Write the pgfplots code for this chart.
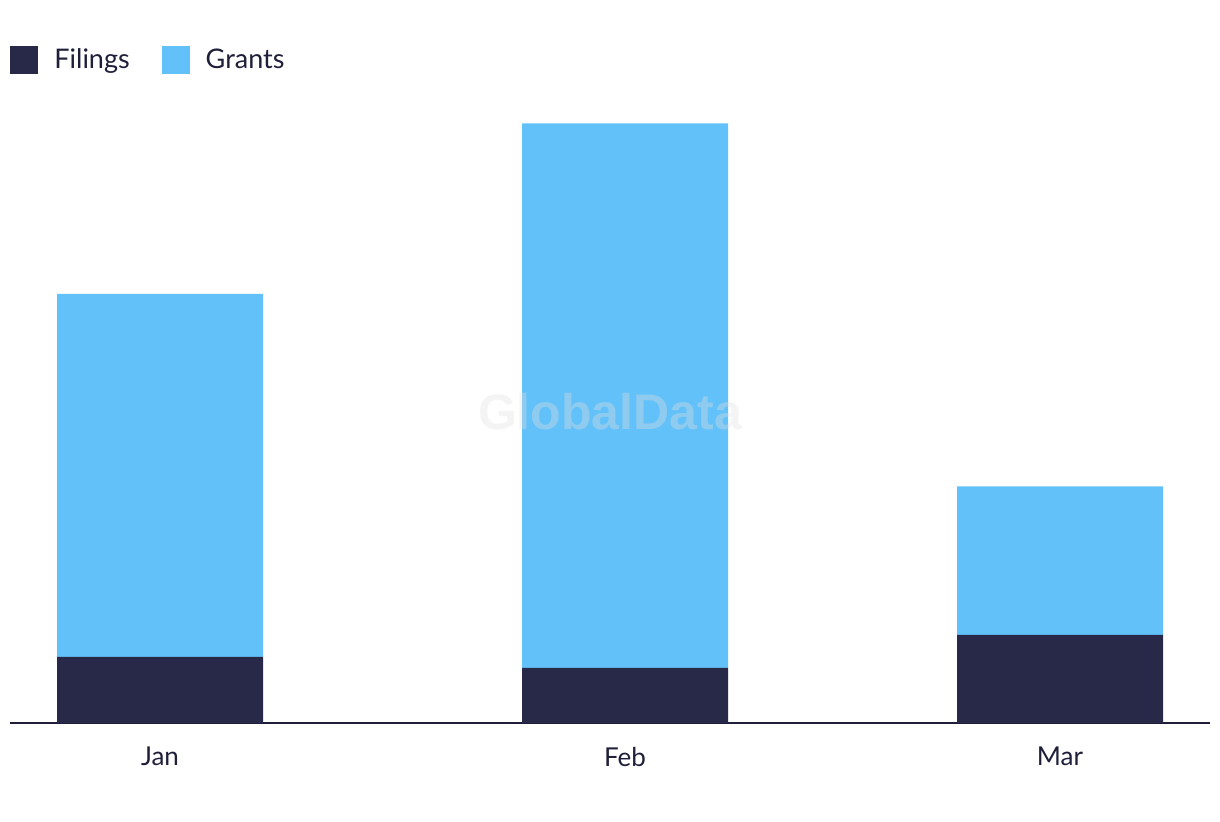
\documentclass[border=0pt]{standalone}
\usepackage{pgfplots}
\pgfplotsset{compat=1.18}
\usepackage{fontspec}
\setmainfont{Lato}
\definecolor{filings}{HTML}{282849}
\definecolor{grants}{HTML}{63C1F9}
\definecolor{txt}{HTML}{1F1F3A}
\begin{document}
\begin{tikzpicture}
\useasboundingbox (0,0) rectangle (610pt,411pt);
\begin{axis}[
  at={(5pt,49.5pt)}, anchor=south west,
  scale only axis, width=600pt, height=311.5pt,
  xmin=10, xmax=1210, ymin=0, ymax=113.27,
  ybar stacked, bar width=103pt,
  axis x line=bottom, axis y line=none,
  axis line style={-, line width=1pt, color=txt},
  xtick={160,625,1060}, xticklabels={Jan,Feb,Mar},
  major tick length=0pt,
  xticklabel style={font=\fontsize{13}{15}\selectfont, text=txt, yshift=-8.5pt},
  legend style={at={(0,1.064)}, anchor=west, draw=none, fill=none,
    font=\fontsize{13.5}{16}\selectfont, text=txt, inner sep=0pt,
    /tikz/every even column/.append style={column sep=14pt}},
  legend columns=2,
  legend image code/.code={\fill[#1, draw=none] (0pt,-7pt) rectangle (14pt,7pt); \path[draw=none, fill=none] (0pt,0pt) -- (20pt,0pt);},
  legend cell align=left,
]
\addplot[fill=filings, draw=none] coordinates {(160,12) (625,10) (1060,16)};
\addplot[fill=grants, draw=none] coordinates {(160,66) (625,99) (1060,27)};
\legend{Filings, Grants}
\end{axis}
\node[font=\fontsize{25}{28}\selectfont\bfseries\fontspec{Liberation Sans}, text=gray!25, text opacity=0.35] at (305pt,205pt) {GlobalData};
\end{tikzpicture}
\end{document}
